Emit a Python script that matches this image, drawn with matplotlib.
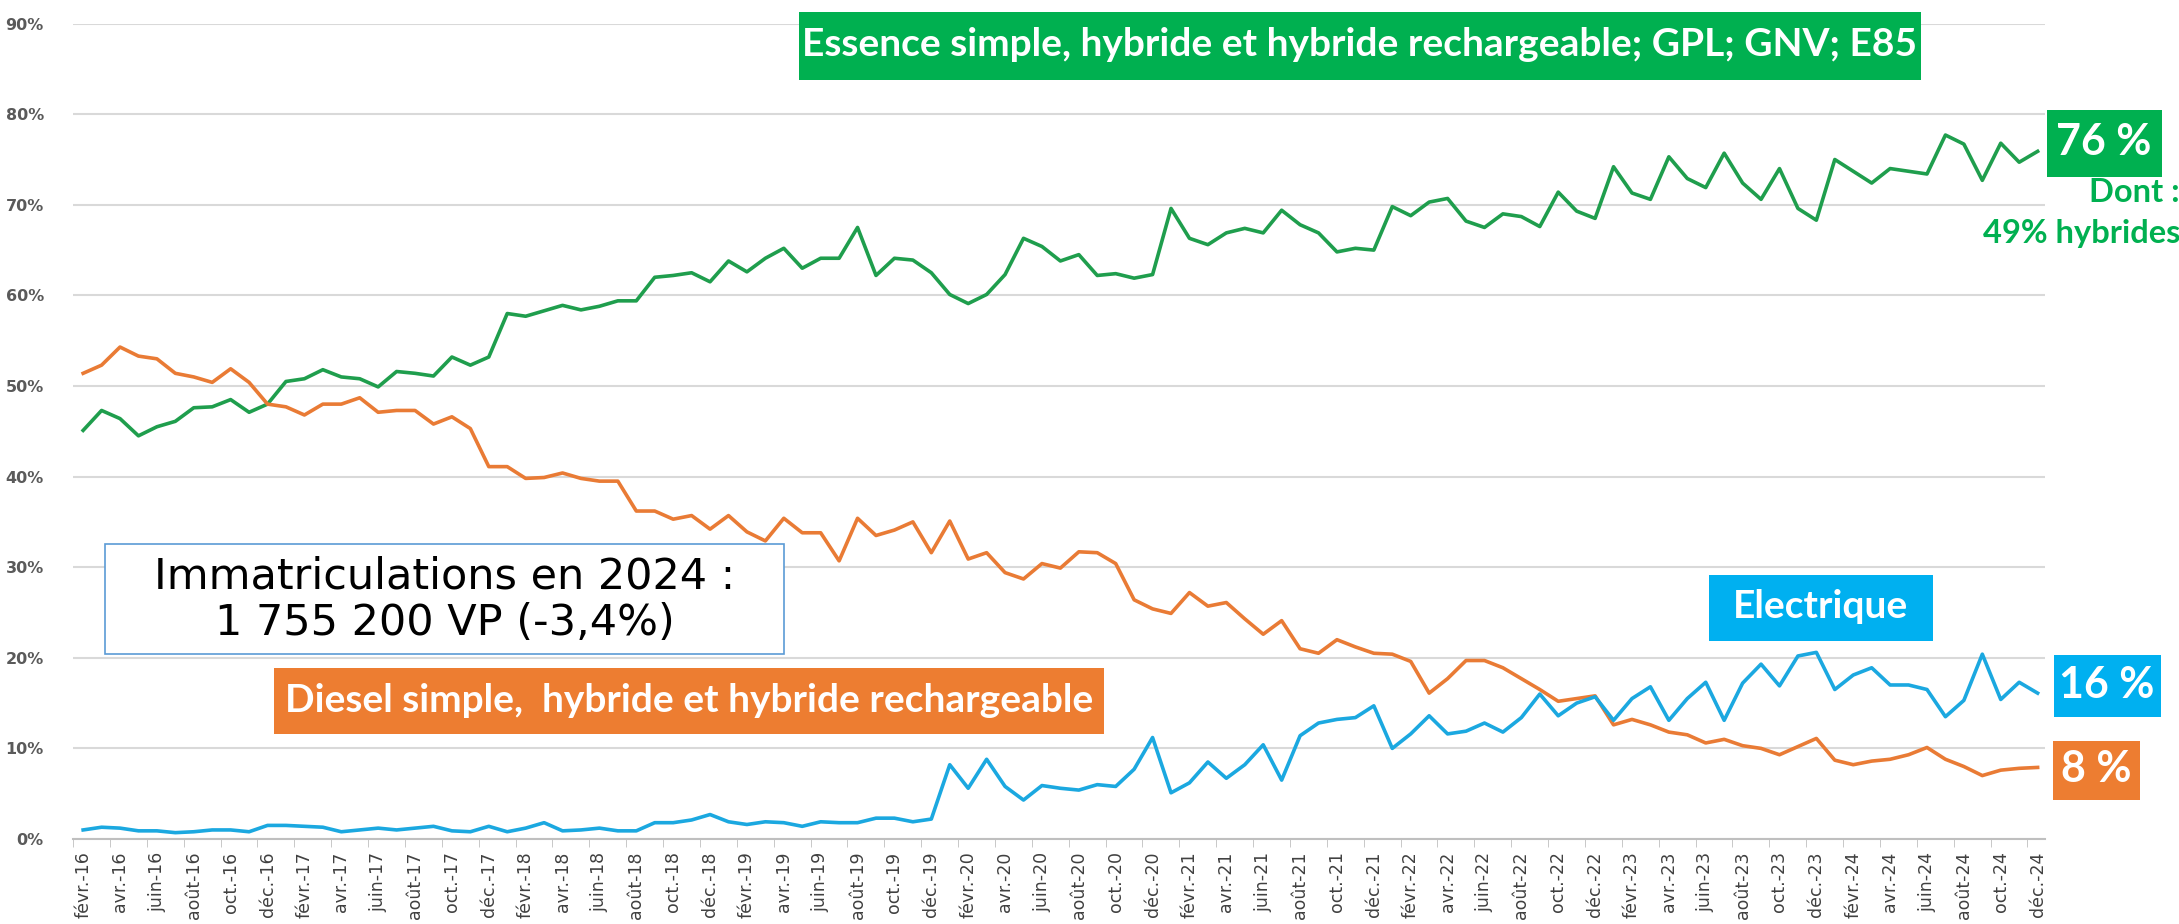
import numpy as np
import matplotlib
matplotlib.use('Agg')
import matplotlib.pyplot as plt
from matplotlib.patches import Rectangle

# mois de févr.-16 à déc.-24
mois = ['janv.', 'févr.', 'mars', 'avr.', 'mai', 'juin',
        'juil.', 'août', 'sept.', 'oct.', 'nov.', 'déc.']
labels = [mois[m] + '-' + str(a)[2:]
          for a in range(2016, 2025) for m in range(12)
          if not (a == 2016 and m == 0)]

# parts de marché en % (une ligne par année)
essence = [45.1, 47.3, 46.4, 44.5, 45.5, 46.1, 47.6, 47.7, 48.5, 47.1, 48.0,
           50.5, 50.8, 51.8, 51.0, 50.8, 49.9, 51.6, 51.4, 51.1, 53.2, 52.3, 53.2,
           58.0, 57.7, 58.3, 58.9, 58.4, 58.8, 59.4, 59.4, 62.0, 62.2, 62.5, 61.5,
           63.8, 62.6, 64.1, 65.2, 63.0, 64.1, 64.1, 67.5, 62.2, 64.1, 63.9, 62.5,
           60.1, 59.1, 60.1, 62.3, 66.3, 65.4, 63.8, 64.5, 62.2, 62.4, 61.9, 62.3,
           69.6, 66.3, 65.6, 66.9, 67.4, 66.9, 69.4, 67.8, 66.9, 64.8, 65.2, 65.0,
           69.8, 68.8, 70.3, 70.7, 68.2, 67.5, 69.0, 68.7, 67.6, 71.4, 69.3, 68.5,
           74.2, 71.3, 70.6, 75.3, 72.9, 71.9, 75.7, 72.4, 70.6, 74.0, 69.6, 68.3,
           75.0, 73.7, 72.4, 74.0, 73.7, 73.4, 77.7, 76.7, 72.7, 76.8, 74.7, 75.9]

diesel = [51.4, 52.3, 54.3, 53.3, 53.0, 51.4, 51.0, 50.4, 51.9, 50.4, 48.0,
          47.7, 46.8, 48.0, 48.0, 48.7, 47.1, 47.3, 47.3, 45.8, 46.6, 45.3, 41.1,
          41.1, 39.8, 39.9, 40.4, 39.8, 39.5, 39.5, 36.2, 36.2, 35.3, 35.7, 34.2,
          35.7, 33.9, 32.9, 35.4, 33.8, 33.8, 30.7, 35.4, 33.5, 34.1, 35.0, 31.6,
          35.1, 30.9, 31.6, 29.4, 28.7, 30.4, 29.9, 31.7, 31.6, 30.4, 26.4, 25.4,
          24.9, 27.2, 25.7, 26.1, 24.3, 22.6, 24.1, 21.0, 20.5, 22.0, 21.2, 20.5,
          20.4, 19.6, 16.1, 17.7, 19.7, 19.7, 18.9, 17.7, 16.5, 15.2, 15.5, 15.8,
          12.6, 13.2, 12.6, 11.8, 11.5, 10.6, 11.0, 10.3, 10.0, 9.3, 10.2, 11.1,
          8.7, 8.2, 8.6, 8.8, 9.3, 10.1, 8.8, 8.0, 7.0, 7.6, 7.8, 7.9]

electrique = [1.0, 1.3, 1.2, 0.9, 0.9, 0.7, 0.8, 1.0, 1.0, 0.8, 1.5,
              1.5, 1.4, 1.3, 0.8, 1.0, 1.2, 1.0, 1.2, 1.4, 0.9, 0.8, 1.4,
              0.8, 1.2, 1.8, 0.9, 1.0, 1.2, 0.9, 0.9, 1.8, 1.8, 2.1, 2.7,
              1.9, 1.6, 1.9, 1.8, 1.4, 1.9, 1.8, 1.8, 2.3, 2.3, 1.9, 2.2,
              8.2, 5.6, 8.8, 5.8, 4.3, 5.9, 5.6, 5.4, 6.0, 5.8, 7.7, 11.2,
              5.1, 6.2, 8.5, 6.7, 8.2, 10.4, 6.5, 11.4, 12.8, 13.2, 13.4, 14.7,
              10.0, 11.6, 13.6, 11.6, 11.9, 12.8, 11.8, 13.4, 16.0, 13.6, 15.0, 15.7,
              13.1, 15.5, 16.8, 13.1, 15.5, 17.3, 13.1, 17.2, 19.3, 16.9, 20.2, 20.6,
              16.5, 18.1, 18.9, 17.0, 17.0, 16.5, 13.5, 15.3, 20.4, 15.4, 17.3, 16.1]

VERT = '#00b050'
ORANGE = '#ed7d31'
BLEU = '#00b0f0'
LATO = ['Lato', 'DejaVu Sans']
GRAS = dict(family=LATO, weight='bold', color='white')

W, H = 2179, 924
fig = plt.figure(figsize=(W / 100, H / 100), dpi=100)
ax = fig.add_axes([73 / W, 1 - 839 / H, (2045 - 73) / W, (839 - 23.6) / H])

x = np.arange(len(labels))
ax.plot(x, essence, color='#1f9e4d', lw=2.6)
ax.plot(x, diesel, color='#e97b35', lw=2.6)
ax.plot(x, electrique, color='#1ba8e0', lw=2.6)

ax.set_xlim(-0.55, 106.4)
ax.set_ylim(0, 90)
ax.set_yticks(range(0, 91, 10))
ax.set_yticklabels([f'{v}%' for v in range(0, 91, 10)],
                   fontsize=11.5, fontweight='bold', color='#5a5a5a')
ax.set_xticks(x[::2])
ax.set_xticklabels(labels[::2], rotation=90, fontsize=12.5, color='#404040',
                   family=['Liberation Sans Narrow', 'DejaVu Sans'])
ax.set_xticks(x[::2] - 0.55, minor=True)
ax.tick_params(axis='x', which='major', length=0, pad=9)
ax.tick_params(axis='x', which='minor', length=6, color='#bfbfbf')
ax.tick_params(axis='y', length=0, pad=21)
ax.grid(axis='y', color='#d9d9d9', lw=1.5)
ax.set_axisbelow(True)
for s in ['left', 'right', 'top']:
    ax.spines[s].set_visible(False)
ax.spines['bottom'].set_color('#bfbfbf')
ax.spines['bottom'].set_linewidth(1.5)


def boite(x0, y0, x1, y1, fc, ec=None, lw=0):
    fig.add_artist(Rectangle((x0 / W, 1 - y1 / H), (x1 - x0) / W, (y1 - y0) / H,
                             transform=fig.transFigure, fc=fc,
                             ec=ec if ec else fc, lw=lw))


def texte(x, y, s, ha='center', **kw):
    fig.text(x / W, 1 - y / H, s, ha=ha, va='center', **kw)


# étiquettes des séries
boite(799, 12, 1921, 80, VERT)
texte(1360, 45, 'Essence simple, hybride et hybride rechargeable; GPL; GNV; E85',
      fontsize=28, **GRAS)
boite(274, 668, 1104, 734, ORANGE)
texte(689, 700, 'Diesel simple,  hybride et hybride rechargeable', fontsize=28, **GRAS)
boite(1709, 575, 1933, 641, BLEU)
texte(1821, 607, 'Electrique', fontsize=28, **GRAS)

# encadré
boite(105, 544, 784, 654, 'white', ec='#5b9bd5', lw=1.2)
texte(445, 600, 'Immatriculations en 2024 :\n1 755 200 VP (-3,4%)',
      fontsize=31, color='black', family='DejaVu Sans', linespacing=1.15)

# valeurs finales
boite(2047, 110, 2162, 177, VERT)
texte(2104, 142, '76 %', fontsize=31, **GRAS)
texte(2180, 193, 'Dont :', ha='right', fontsize=23.5, family=LATO,
      weight='bold', color=VERT)
texte(2180, 233, '49% hybrides', ha='right', fontsize=23.5, family=LATO,
      weight='bold', color=VERT)
boite(2054, 655, 2161, 717, BLEU)
texte(2107, 685, '16 %', fontsize=31, **GRAS)
boite(2053, 741, 2140, 800, ORANGE)
texte(2096, 769, '8 %', fontsize=31, **GRAS)

fig.savefig('out.png', dpi=100)
